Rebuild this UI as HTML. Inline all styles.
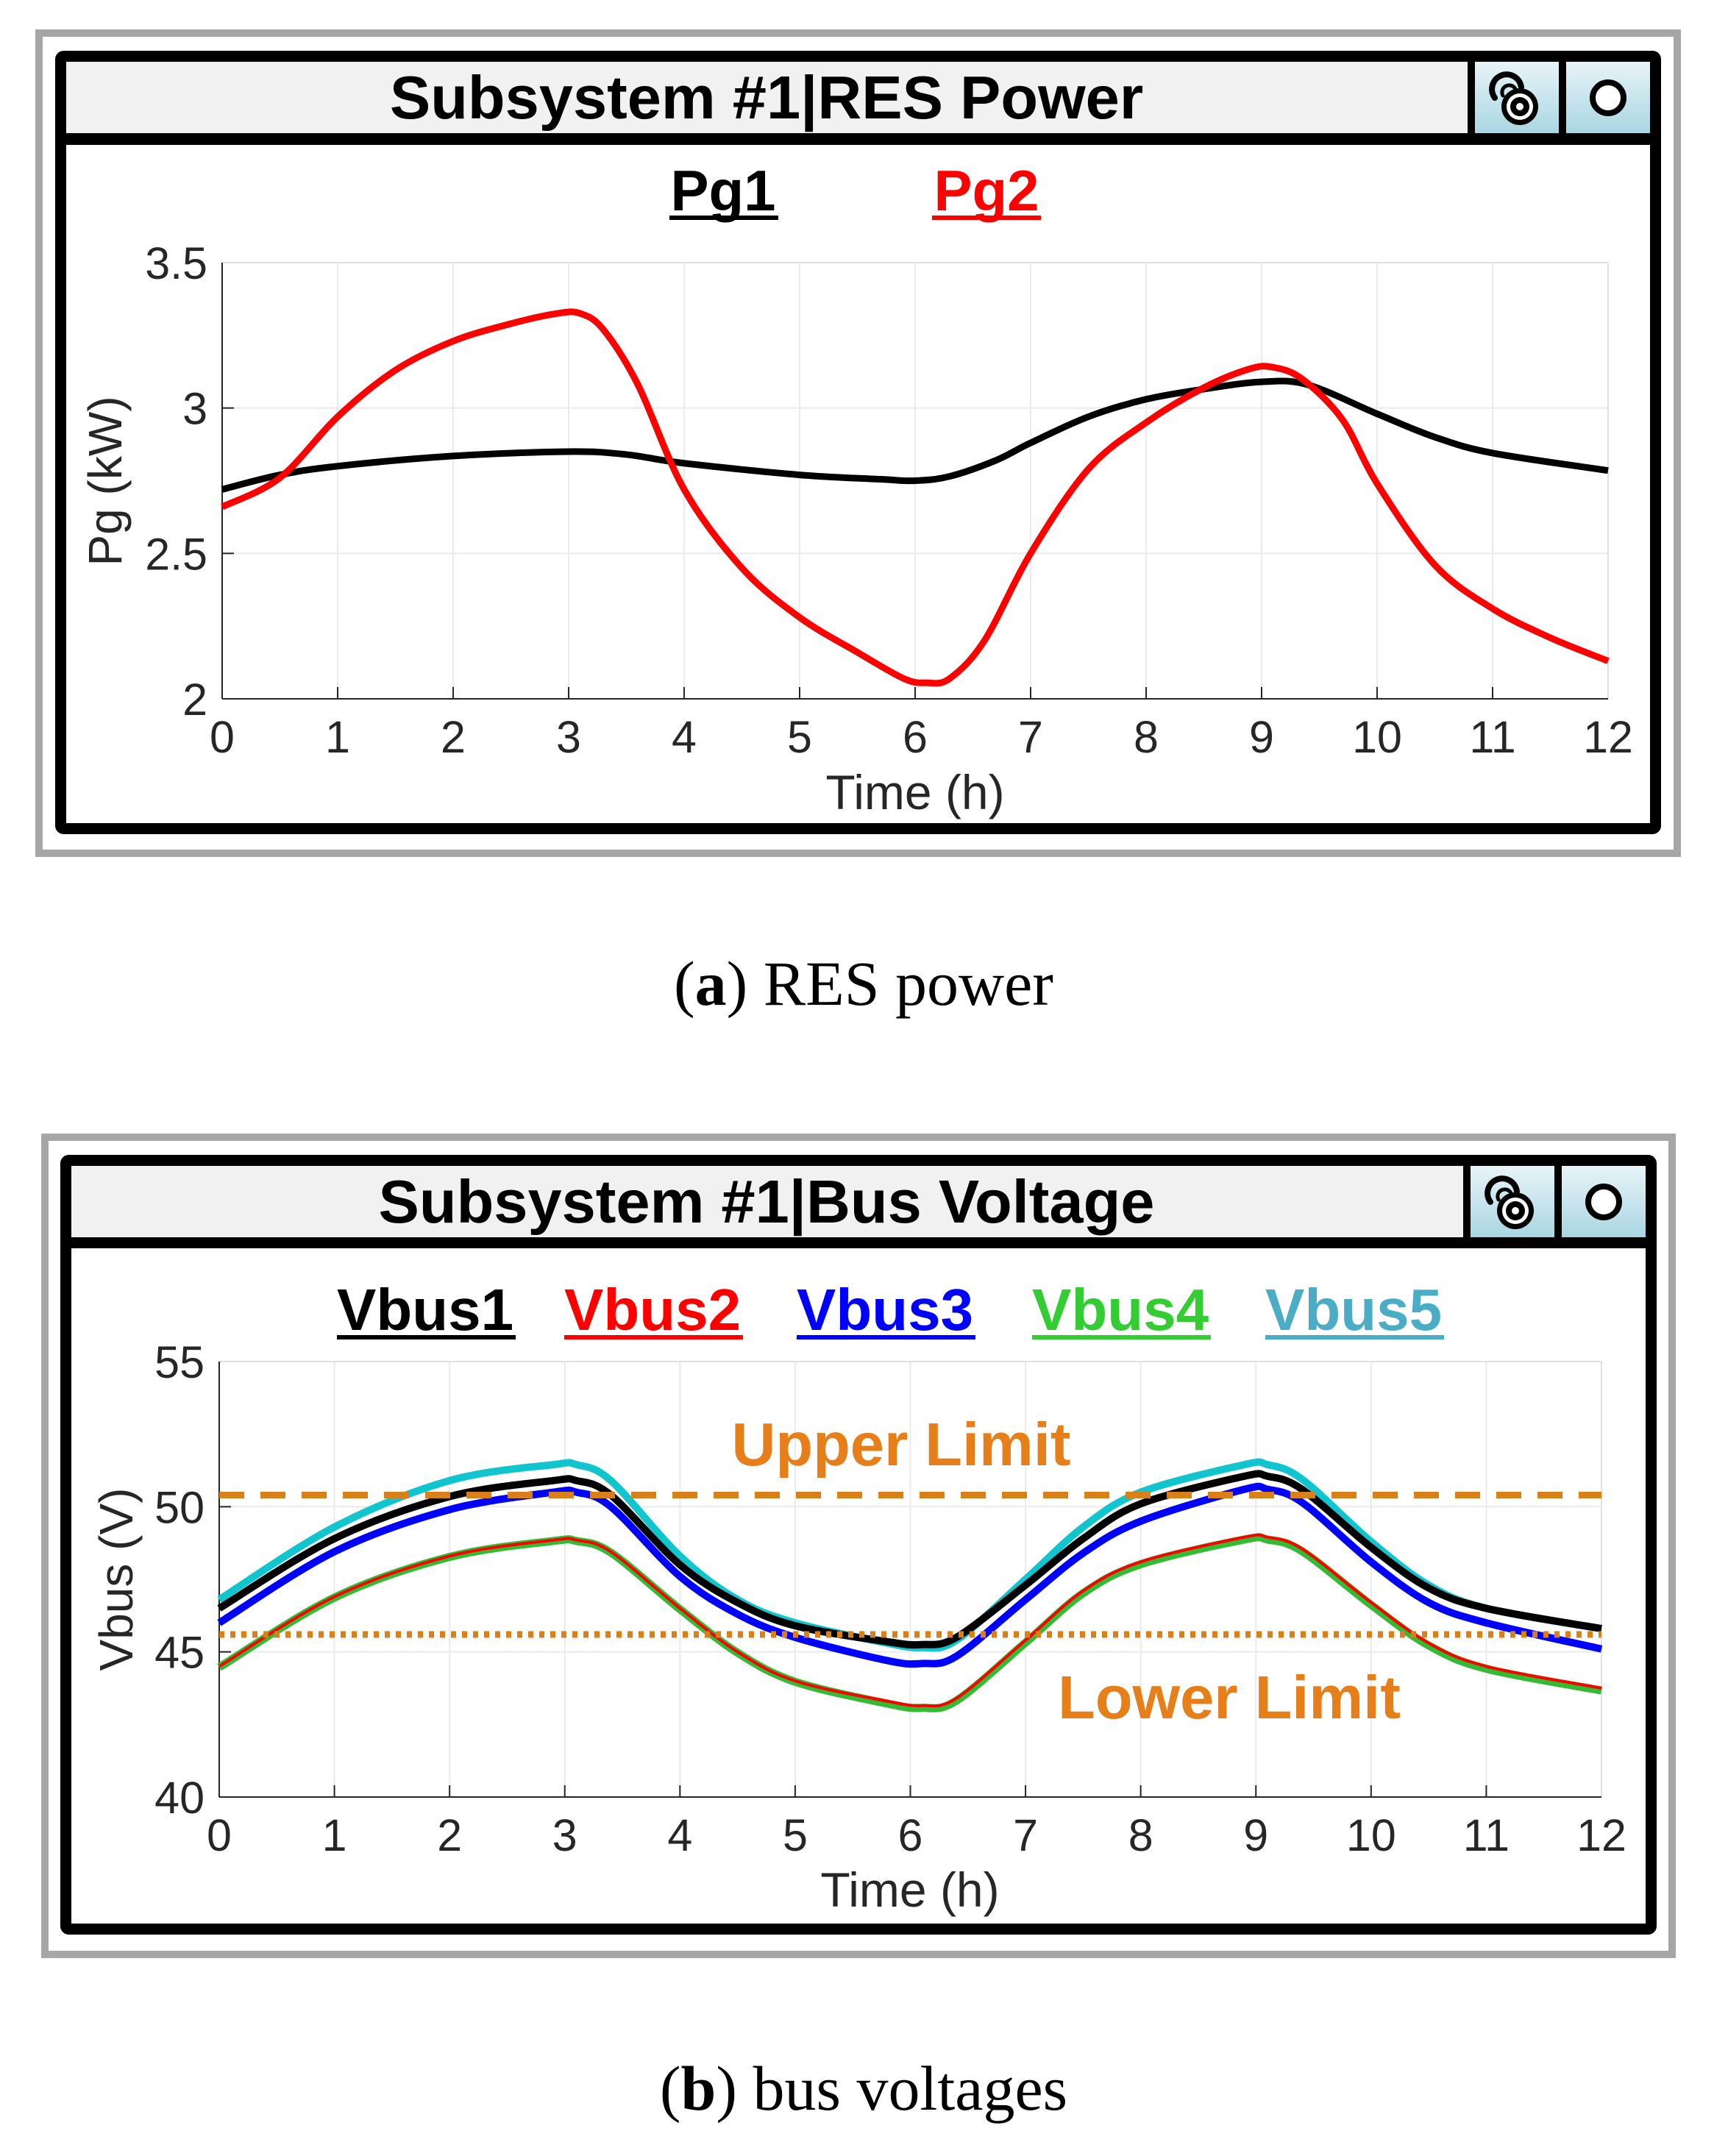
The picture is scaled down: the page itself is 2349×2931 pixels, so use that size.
<!DOCTYPE html>
<html><head><meta charset="utf-8"><style>
html,body{margin:0;padding:0;background:#fff}
svg{display:block}
text{font-family:"Liberation Sans",sans-serif}
</style></head><body>
<svg id="s" width="2349" height="2931" viewBox="0 0 2349 2931" xmlns="http://www.w3.org/2000/svg">
<defs>
<linearGradient id="bg" x1="0" y1="0" x2="0" y2="1"><stop offset="0" stop-color="#e8f4f8"/><stop offset="1" stop-color="#a9d6e2"/></linearGradient>
</defs>
<!-- Panel A -->
<rect x="53" y="45" width="2227" height="1115" fill="none" stroke="#a6a6a6" stroke-width="10"/>
<rect x="82.5" y="76.5" width="2168" height="1050" fill="#fff" stroke="#000" stroke-width="15" rx="4"/>
<rect x="90" y="84" width="1905" height="97" fill="#f1f1f1"/>
<rect x="90" y="181" width="2153" height="16" fill="#000"/>
<rect x="1995" y="84" width="10" height="97" fill="#000"/>
<rect x="2005" y="84" width="114" height="97" fill="url(#bg)"/>
<rect x="2119" y="84" width="10" height="97" fill="#000"/>
<rect x="2129" y="84" width="114" height="97" fill="url(#bg)"/>
<g transform="translate(2062,133)">
<path d="M-30,0 A20,20 0 1 1 6,-14" fill="none" stroke="#000" stroke-width="8" stroke-linecap="round"/>
<path d="M-19,-3 A9,9 0 1 1 -2,-12" fill="none" stroke="#000" stroke-width="5" stroke-linecap="round"/>
<circle cx="4" cy="12" r="25" fill="#000"/><circle cx="4" cy="12" r="18" fill="#fff"/><circle cx="4" cy="12" r="13" fill="#000"/><circle cx="4" cy="12" r="5" fill="#fff"/>
</g>
<circle cx="2186" cy="133" r="21" fill="#fff" stroke="#000" stroke-width="8"/>
<text x="1042" y="161" font-size="83" font-weight="bold" text-anchor="middle">Subsystem #1|RES Power</text>
<text x="983" y="286" font-size="78" font-weight="bold" text-anchor="middle">Pg1</text>
<rect x="910" y="293" width="148" height="6" fill="#000"/>
<text x="1341" y="286" font-size="78" font-weight="bold" text-anchor="middle" fill="#ff0000">Pg2</text>
<rect x="1267" y="293" width="148" height="6" fill="#ff0000"/>
<g id="gridA"></g>
<g id="A"></g>
<text x="1244" y="1100" font-size="66" fill="#262626" text-anchor="middle">Time (h)</text>
<text transform="translate(165,654) rotate(-90)" font-size="64" fill="#262626" text-anchor="middle">Pg (kW)</text>
<text x="1174" y="1366" font-size="86" text-anchor="middle" style="font-family:'Liberation Serif',serif">(<tspan font-weight="bold">a</tspan>) RES power</text>

<!-- Panel B -->
<rect x="61" y="1546" width="2212" height="1111" fill="none" stroke="#a6a6a6" stroke-width="10"/>
<rect x="89.5" y="1577.5" width="2155" height="1045" fill="#fff" stroke="#000" stroke-width="15" rx="4"/>
<rect x="97" y="1585" width="1892" height="97" fill="#f1f1f1"/>
<rect x="97" y="1682" width="2140" height="15" fill="#000"/>
<rect x="1989" y="1585" width="10" height="97" fill="#000"/>
<rect x="1999" y="1585" width="114" height="97" fill="url(#bg)"/>
<rect x="2113" y="1585" width="10" height="97" fill="#000"/>
<rect x="2123" y="1585" width="114" height="97" fill="url(#bg)"/>
<g transform="translate(2056,1634)">
<path d="M-30,0 A20,20 0 1 1 6,-14" fill="none" stroke="#000" stroke-width="8" stroke-linecap="round"/>
<path d="M-19,-3 A9,9 0 1 1 -2,-12" fill="none" stroke="#000" stroke-width="5" stroke-linecap="round"/>
<circle cx="4" cy="12" r="25" fill="#000"/><circle cx="4" cy="12" r="18" fill="#fff"/><circle cx="4" cy="12" r="13" fill="#000"/><circle cx="4" cy="12" r="5" fill="#fff"/>
</g>
<circle cx="2180" cy="1634" r="21" fill="#fff" stroke="#000" stroke-width="8"/>
<text x="1042" y="1662" font-size="83" font-weight="bold" text-anchor="middle">Subsystem #1|Bus Voltage</text>
<g font-size="80" font-weight="bold">
<text x="458" y="1808">Vbus1</text><rect x="458" y="1815" width="243" height="6" fill="#000"/>
<text x="767" y="1808" fill="#ff0000">Vbus2</text><rect x="767" y="1815" width="243" height="6" fill="#ff0000"/>
<text x="1083" y="1808" fill="#0000ff">Vbus3</text><rect x="1083" y="1815" width="243" height="6" fill="#0000ff"/>
<text x="1403" y="1808" fill="#33cc33">Vbus4</text><rect x="1403" y="1815" width="243" height="6" fill="#33cc33"/>
<text x="1720" y="1808" fill="#4bacc6">Vbus5</text><rect x="1720" y="1815" width="243" height="6" fill="#4bacc6"/>
</g>
<g id="gridB"></g>
<g id="B"></g>
<text x="1225" y="1992" font-size="83" font-weight="bold" fill="#e67e1a" text-anchor="middle">Upper Limit</text>
<text x="1671" y="2336" font-size="83" font-weight="bold" fill="#e67e1a" text-anchor="middle">Lower Limit</text>
<text x="1237" y="2592" font-size="66" fill="#262626" text-anchor="middle">Time (h)</text>
<text transform="translate(180,2147) rotate(-90)" font-size="64" fill="#262626" text-anchor="middle">Vbus (V)</text>
<text x="1174" y="2868" font-size="86" text-anchor="middle" style="font-family:'Liberation Serif',serif">(<tspan font-weight="bold">b</tspan>) bus voltages</text>
</svg>
<script>
var NS="http://www.w3.org/2000/svg";
function el(p,t,a,txt){var e=document.createElementNS(NS,t);for(var k in a)e.setAttribute(k,a[k]);if(txt!==undefined)e.textContent=txt;p.appendChild(e);return e;}
function axes(g,L,T,R,B,ymin,ymax,yt,ylab){
  var W=R-L,H=B-T;
  for(var i=0;i<=12;i++){var x=L+W*i/12;
    if(i>0&&i<12)el(g,"line",{x1:x,y1:T,x2:x,y2:B,stroke:"#ebebeb","stroke-width":2});
    el(g,"line",{x1:x,y1:B,x2:x,y2:B-16,stroke:"#262626","stroke-width":2});
    el(g,"text",{x:x,y:B+73,"font-size":61,fill:"#262626","text-anchor":"middle"},String(i));}
  for(var j=0;j<yt.length;j++){var y=B-H*(yt[j]-ymin)/(ymax-ymin);
    if(j>0&&j<yt.length-1)el(g,"line",{x1:L,y1:y,x2:R,y2:y,stroke:"#ebebeb","stroke-width":2});
    el(g,"line",{x1:L,y1:y,x2:L+16,y2:y,stroke:"#262626","stroke-width":2});
    el(g,"text",{x:L-20,y:y+22,"font-size":61,fill:"#262626","text-anchor":"end"},ylab[j]);}
  el(g,"line",{x1:L,y1:T,x2:R,y2:T,stroke:"#e0e0e0","stroke-width":2});
  el(g,"line",{x1:R,y1:T,x2:R,y2:B,stroke:"#e0e0e0","stroke-width":2});
  el(g,"line",{x1:L,y1:T,x2:L,y2:B,stroke:"#262626","stroke-width":2});
  el(g,"line",{x1:L,y1:B,x2:R,y2:B,stroke:"#262626","stroke-width":2});
}
function path(pts,L,T,R,B,ymin,ymax){
  var P=pts.map(function(p){return [L+(R-L)*p[0]/12,B-(B-T)*(p[1]-ymin)/(ymax-ymin)];});
  var d="M"+P[0][0]+","+P[0][1];
  for(var i=0;i<P.length-1;i++){var p0=P[Math.max(0,i-1)],p1=P[i],p2=P[i+1],p3=P[Math.min(P.length-1,i+2)];
    var c1=[p1[0]+(p2[0]-p0[0])/6,p1[1]+(p2[1]-p0[1])/6],c2=[p2[0]-(p3[0]-p1[0])/6,p2[1]-(p3[1]-p1[1])/6];
    d+=" C"+c1[0]+","+c1[1]+" "+c2[0]+","+c2[1]+" "+p2[0]+","+p2[1];}
  return d;
}
var aL=302,aT=357,aR=2186,aB=950;
axes(document.getElementById("gridA"),aL,aT,aR,aB,2,3.5,[2,2.5,3,3.5],["2","2.5","3","3.5"]);
var pg1=[[0,2.72],[0.5,2.77],[1,2.80],[2,2.835],[3,2.85],[3.5,2.84],[4,2.81],[5,2.77],[5.7,2.755],[6,2.75],[6.3,2.765],[6.7,2.82],[7,2.88],[7.5,2.97],[8,3.03],[8.5,3.065],[9,3.09],[9.4,3.08],[10,2.98],[10.5,2.90],[11,2.845],[12,2.785]];
var pg2=[[0,2.66],[0.5,2.76],[1,2.97],[1.5,3.13],[2,3.23],[2.5,3.29],[2.9,3.325],[3.1,3.325],[3.3,3.27],[3.6,3.08],[4,2.72],[4.5,2.45],[5,2.28],[5.5,2.16],[5.9,2.07],[6.1,2.055],[6.3,2.07],[6.6,2.2],[7,2.5],[7.5,2.79],[8,2.95],[8.5,3.07],[8.9,3.135],[9.1,3.14],[9.35,3.1],[9.7,2.96],[10,2.74],[10.5,2.46],[11,2.31],[11.5,2.21],[12,2.13]];
var A=document.getElementById("A");
el(A,"path",{d:path(pg1,aL,aT,aR,aB,2,3.5),fill:"none",stroke:"#000","stroke-width":9,"stroke-linejoin":"round"});
el(A,"path",{d:path(pg2,aL,aT,aR,aB,2,3.5),fill:"none",stroke:"#ff0000","stroke-width":9,"stroke-linejoin":"round"});
var bL=298,bT=1851,bR=2177,bB=2443;
axes(document.getElementById("gridB"),bL,bT,bR,bB,40,55,[40,45,50,55],["40","45","50","55"]);
var B=document.getElementById("B");
var yU=bB-(bB-bT)*(50.4-40)/15,yLo=bB-(bB-bT)*(45.6-40)/15;
var v5=[[0,46.8],[1,49.3],[2,50.9],[2.9,51.45],[3.1,51.45],[3.4,50.9],[4,48.3],[4.5,46.8],[5,46.0],[5.8,45.3],[6.1,45.15],[6.4,45.4],[7,47.5],[7.5,49.3],[8,50.5],[8.9,51.45],[9.1,51.45],[9.4,50.95],[10,48.8],[10.5,47.3],[11,46.5],[12,45.8]];
var v1=[[0,46.5],[1,48.9],[2,50.35],[2.9,50.9],[3.1,50.9],[3.4,50.4],[4,48.0],[4.5,46.7],[5,45.9],[5.8,45.35],[6.1,45.25],[6.4,45.5],[7,47.3],[7.5,48.9],[8,50.1],[8.9,51.05],[9.1,51.05],[9.4,50.6],[10,48.6],[10.5,47.2],[11,46.5],[12,45.8]];
var v3=[[0,46.0],[1,48.45],[2,49.9],[2.9,50.5],[3.1,50.5],[3.4,50.0],[4,47.6],[4.5,46.3],[5,45.5],[5.8,44.7],[6.1,44.6],[6.4,44.85],[7,46.8],[7.5,48.4],[8,49.5],[8.9,50.6],[9.1,50.6],[9.4,50.15],[10,48.1],[10.5,46.7],[11,46.0],[12,45.1]];
var v2=[[0,44.5],[1,46.9],[2,48.3],[2.9,48.85],[3.1,48.85],[3.4,48.45],[4,46.5],[4.5,45.0],[5,44.0],[5.8,43.3],[6.1,43.15],[6.4,43.4],[7,45.4],[7.5,47.1],[8,48.1],[8.9,48.95],[9.1,48.95],[9.4,48.55],[10,46.7],[10.5,45.3],[11,44.5],[12,43.75]];
var v4=v2.map(function(p){return [p[0],p[1]-(p[0]>5?0.08:0.03)];});
[[v5,"#11c5cf",10],[v1,"#000",10],[v3,"#0000ff",10],[v4,"#33bb33",11],[v2,"#ff0000",4]].forEach(function(s){
  el(B,"path",{d:path(s[0],bL,bT,bR,bB,40,55),fill:"none",stroke:s[1],"stroke-width":s[2],"stroke-linejoin":"round"});});
el(B,"line",{x1:bL,y1:yU,x2:bR,y2:yU,stroke:"#d9801a","stroke-width":9,"stroke-dasharray":"34,22"});
el(B,"line",{x1:bL,y1:yLo,x2:bR,y2:yLo,stroke:"#d9801a","stroke-width":9,"stroke-dasharray":"7,8"});
</script>
</body></html>
